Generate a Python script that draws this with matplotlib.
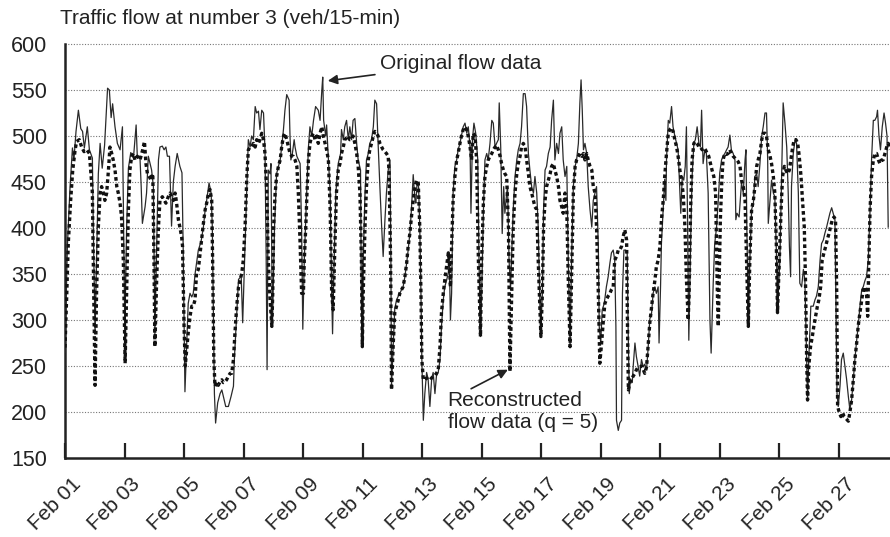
import matplotlib
matplotlib.use("Agg")
import matplotlib.pyplot as plt
import matplotlib.dates as mdates
import matplotlib.transforms as mtransforms
import numpy as np
import pandas as pd

plt.rcParams['font.family'] = ['Liberation Sans', 'DejaVu Sans']

start_date = "2005-02-01"

# Original flow data (time in days from Feb 01 00:00, flow in veh/15-min)
orig_days = [
    0.00, 0.08, 0.17, 0.25, 0.30, 0.37, 0.45, 0.53, 0.59, 0.65, 0.75, 0.82, 0.92, 0.95,
    1.01, 1.06, 1.12, 1.18, 1.25, 1.33, 1.43, 1.49, 1.55, 1.60, 1.68, 1.76, 1.85, 1.93, 1.97,
    2.01, 2.07, 2.13, 2.21, 2.30, 2.39, 2.43, 2.52, 2.56, 2.60, 2.69, 2.74, 2.80, 2.86, 2.91, 2.97,
    3.02, 3.08, 3.14, 3.19, 3.27, 3.33, 3.39, 3.44, 3.51, 3.58, 3.64, 3.70, 3.77, 3.86, 3.93, 3.97,
    4.03, 4.09, 4.14, 4.20, 4.26, 4.31, 4.37, 4.48, 4.57, 4.65, 4.71, 4.76, 4.84, 4.91, 4.95, 4.99,
    5.02, 5.06, 5.13, 5.21, 5.27, 5.32, 5.40, 5.49, 5.58, 5.66, 5.69, 5.77, 5.83, 5.92, 5.97,
    6.02, 6.05, 6.11, 6.16, 6.22, 6.27, 6.33, 6.39, 6.44, 6.50, 6.55, 6.61, 6.67, 6.72, 6.76,
    6.79, 6.83, 6.89, 6.92, 6.97, 7.04, 7.11, 7.17, 7.23, 7.28, 7.34, 7.39, 7.45, 7.53, 7.56,
    7.59, 7.64, 7.70, 7.73, 7.79, 7.90, 7.95, 7.99, 8.04, 8.12, 8.18, 8.23, 8.29, 8.35, 8.42,
    8.51, 8.57, 8.63, 8.66, 8.69, 8.76, 8.79, 8.85, 8.91, 8.96, 8.99, 9.03, 9.10, 9.18, 9.26,
    9.29, 9.35, 9.40, 9.46, 9.52, 9.57, 9.63, 9.68, 9.74, 9.80, 9.85, 9.93, 9.96, 9.99, 10.02,
    10.08, 10.13, 10.19, 10.24, 10.30, 10.36, 10.41, 10.47, 10.52, 10.58, 10.64, 10.69, 10.75,
    10.80, 10.86, 10.92, 10.95, 10.97, 11.03, 11.08, 11.14, 11.20, 11.25, 11.31, 11.36, 11.42,
    11.48, 11.53, 11.59, 11.64, 11.70, 11.76, 11.79, 11.83, 11.88, 11.92, 11.96, 11.99, 12.04,
    12.09, 12.15, 12.20, 12.26, 12.32, 12.37, 12.43, 12.48, 12.54, 12.60, 12.65, 12.71, 12.76,
    12.82, 12.88, 12.91, 12.95, 12.99, 13.04, 13.10, 13.16, 13.21, 13.27, 13.32, 13.38, 13.44,
    13.50, 13.55, 13.61, 13.64, 13.69, 13.74, 13.80, 13.87, 13.91, 13.96, 14.00, 14.06, 14.11,
    14.17, 14.22, 14.28, 14.34, 14.39, 14.45, 14.50, 14.56, 14.59, 14.64, 14.69, 14.74, 14.78,
    14.84, 14.87, 14.92, 14.97, 15.06, 15.12, 15.18, 15.23, 15.29, 15.34, 15.40, 15.46, 15.51,
    15.57, 15.62, 15.68, 15.74, 15.79, 15.85, 15.90, 15.96, 15.99, 16.04, 16.08, 16.13, 16.18,
    16.24, 16.30, 16.35, 16.41, 16.46, 16.52, 16.58, 16.63, 16.69, 16.74, 16.80, 16.86, 16.91,
    16.97, 17.02, 17.08, 17.14, 17.19, 17.25, 17.30, 17.34, 17.38, 17.42, 17.47, 17.53, 17.58,
    17.64, 17.70, 17.75, 17.81, 17.86, 17.92, 17.95, 18.00, 18.05, 18.12, 18.19, 18.25, 18.31,
    18.36, 18.42, 18.47, 18.51, 18.53, 18.59, 18.64, 18.70, 18.73, 18.78, 18.84, 18.89, 18.92,
    18.96, 19.00, 19.06, 19.09, 19.15, 19.20, 19.26, 19.31, 19.37, 19.43, 19.48, 19.54, 19.59,
    19.65, 19.71, 19.76, 19.82, 19.87, 19.93, 19.96, 20.01, 20.04, 20.10, 20.15, 20.19, 20.21,
    20.27, 20.32, 20.38, 20.43, 20.49, 20.55, 20.60, 20.66, 20.69, 20.74, 20.79, 20.84, 20.88,
    20.92, 20.96, 21.02, 21.07, 21.13, 21.18, 21.24, 21.30, 21.35, 21.39, 21.44, 21.50, 21.55,
    21.61, 21.67, 21.71, 21.78, 21.83, 21.89, 21.95, 22.00, 22.06, 22.11, 22.17, 22.23, 22.28,
    22.34, 22.39, 22.45, 22.51, 22.54, 22.58, 22.65, 22.73, 22.79, 22.85, 22.88, 22.91, 22.96,
    23.01, 23.07, 23.13, 23.18, 23.24, 23.29, 23.35, 23.41, 23.46, 23.52, 23.57, 23.61, 23.63,
    23.69, 23.74, 23.80, 23.85, 23.91, 23.94, 24.02, 24.08, 24.13, 24.19, 24.25, 24.30, 24.34,
    24.38, 24.41, 24.47, 24.53, 24.58, 24.64, 24.69, 24.75, 24.81, 24.86, 24.92, 24.95, 24.99,
    25.06, 25.14, 25.20, 25.25, 25.31, 25.37, 25.42, 25.48, 25.53, 25.59, 25.65, 25.70, 25.76,
    25.81, 25.87, 25.90, 25.94, 25.98, 26.04, 26.09, 26.15, 26.21, 26.26, 26.32, 26.37, 26.43,
    26.49, 26.54, 26.60, 26.65, 26.71, 26.77, 26.82, 26.88, 26.93, 26.99, 27.05, 27.10, 27.16,
    27.21, 27.27, 27.30, 27.35, 27.40, 27.46, 27.52, 27.57, 27.62, 27.66,
]
orig_flow = [
    265, 380, 445, 487, 474, 505, 528, 508, 505, 487, 510, 485, 476, 402,
    285, 366, 459, 492, 465, 490, 552, 550, 520, 535, 510, 492, 485, 510, 400,
    290, 400, 465, 482, 476, 512, 477, 476, 445, 405, 423, 438, 478, 470, 463, 445,
    285, 380, 474, 488, 489, 485, 488, 478, 478, 402, 450, 467, 481, 467, 460, 380,
    222, 275, 318, 329, 325, 329, 350, 376, 385, 401, 420, 430, 449, 438, 401, 293,
    220, 188, 210, 220, 224, 217, 206, 206, 217, 228, 257, 308, 344, 348, 297,
    351, 380, 445, 496, 488, 500, 496, 532, 525, 527, 507, 528, 525, 485, 365,
    246, 463, 459, 470, 293, 401, 459, 467, 474, 488, 507, 528, 545, 539, 500,
    474, 481, 496, 488, 478, 470, 401, 290, 365, 438, 488, 510, 500, 517, 532,
    528, 517, 550, 564, 517, 500, 512, 474, 438, 329, 285, 347, 438, 470, 481,
    507, 496, 510, 517, 496, 510, 496, 517, 519, 492, 474, 463, 312, 282, 365,
    438, 474, 481, 492, 496, 510, 539, 535, 492, 445, 401, 369, 409,
    438, 463, 474, 365, 228, 275, 312, 322, 326, 329, 333, 336, 347,
    362, 376, 395, 420, 458, 430, 427, 449, 445, 401, 329, 257, 191,
    220, 243, 236, 206, 236, 243, 220, 239, 243, 257, 293, 322, 336,
    343, 351, 373, 300, 329, 438, 467, 474, 485, 492, 500, 510, 514,
    503, 510, 488, 416, 496, 514, 503, 474, 365, 282, 329, 420, 474,
    481, 474, 492, 517, 514, 488, 492, 496, 536, 488, 394, 445, 416,
    438, 445, 365, 335, 420, 456, 474, 485, 492, 510, 546, 546, 532,
    481, 463, 445, 438, 456, 438, 401, 311, 293, 329, 420, 463, 467,
    481, 488, 517, 539, 474, 492, 481, 503, 510, 474, 456, 467, 365,
    271, 365, 445, 467, 474, 492, 536, 561, 528, 485, 492, 481, 445,
    420, 401, 430, 438, 445, 380, 293, 275, 311, 318, 336, 347, 362,
    373, 376, 365, 293, 191, 180, 188, 191, 329, 376, 376, 372, 293,
    220, 236, 232, 249, 275, 260, 249, 239, 257, 249, 252, 246, 268,
    301, 308, 329, 336, 329, 336, 275, 336, 383, 420, 453, 430, 474,
    517, 514, 532, 510, 500, 492, 485, 438, 416, 456, 452, 467, 510,
    401, 278, 383, 456, 492, 496, 510, 492, 488, 528, 470, 485, 481,
    438, 300, 264, 340, 383, 400, 430, 460, 474, 478, 481, 485, 488,
    501, 485, 481, 474, 409, 416, 412, 449, 438, 474, 485, 401, 296,
    365, 420, 427, 456, 459, 445, 470, 500, 510, 525, 525, 474, 405,
    430, 452, 438, 434, 365, 311, 365, 456, 536, 514, 488, 438, 380,
    347, 445, 481, 496, 492, 438, 340, 336, 355, 343, 257, 213, 257,
    315, 315, 322, 326, 336, 365, 383, 387, 394, 401, 409, 416, 422,
    416, 409, 329, 220, 206, 228, 257, 264, 249, 236, 217, 203, 213,
    236, 257, 278, 293, 315, 333, 336, 343, 347, 365, 420, 474, 517,
    517, 521, 528, 500, 485, 510, 525, 514, 500, 401,
]

# Reconstructed flow data (q = 5)
recon_days = [
    0.00, 0.06, 0.11, 0.19, 0.26, 0.34, 0.39, 0.48, 0.56, 0.64, 0.73, 0.82, 0.87, 0.92, 0.95,
    1.01, 1.06, 1.12, 1.18, 1.23, 1.29, 1.34, 1.40, 1.46, 1.51, 1.57, 1.62, 1.68, 1.74, 1.79,
    1.85, 1.90, 1.96, 2.02, 2.07, 2.13, 2.18, 2.24, 2.30, 2.35, 2.43, 2.52, 2.61, 2.67, 2.72,
    2.77, 2.83, 2.89, 2.95, 2.99, 3.02, 3.08, 3.14, 3.19, 3.27, 3.34, 3.39, 3.47, 3.53, 3.58,
    3.64, 3.70, 3.75, 3.81, 3.86, 3.92, 3.95, 4.00, 4.04, 4.09, 4.14, 4.20, 4.26, 4.31, 4.37,
    4.42, 4.48, 4.54, 4.59, 4.65, 4.71, 4.76, 4.82, 4.87, 4.93, 4.96, 5.00, 5.04, 5.10, 5.15,
    5.21, 5.27, 5.32, 5.38, 5.43, 5.49, 5.55, 5.60, 5.66, 5.71, 5.77, 5.83, 5.88, 5.94, 5.99,
    6.05, 6.11, 6.16, 6.22, 6.27, 6.33, 6.39, 6.44, 6.50, 6.55, 6.61, 6.67, 6.72, 6.78, 6.83,
    6.89, 6.95, 6.98, 7.01, 7.06, 7.11, 7.17, 7.23, 7.28, 7.34, 7.39, 7.45, 7.51, 7.56, 7.62,
    7.67, 7.73, 7.79, 7.84, 7.90, 7.95, 8.01, 8.04, 8.09, 8.13, 8.18, 8.23, 8.29, 8.35, 8.40,
    8.46, 8.51, 8.57, 8.63, 8.68, 8.74, 8.79, 8.85, 8.91, 8.96, 9.01, 9.07, 9.12, 9.18, 9.24,
    9.29, 9.35, 9.40, 9.46, 9.52, 9.57, 9.63, 9.68, 9.74, 9.80, 9.85, 9.91, 9.96, 9.99, 10.02,
    10.08, 10.13, 10.19, 10.24, 10.30, 10.36, 10.41, 10.47, 10.52, 10.58, 10.64, 10.69, 10.75,
    10.80, 10.86, 10.89, 10.94, 10.97, 11.03, 11.08, 11.14, 11.20, 11.25, 11.31, 11.36, 11.42,
    11.48, 11.53, 11.59, 11.64, 11.70, 11.76, 11.81, 11.87, 11.92, 11.96, 11.99, 12.04, 12.09,
    12.15, 12.20, 12.26, 12.32, 12.37, 12.43, 12.48, 12.54, 12.60, 12.65, 12.71, 12.76, 12.82,
    12.88, 12.91, 12.95, 12.99, 13.04, 13.10, 13.16, 13.21, 13.27, 13.32, 13.38, 13.44, 13.49,
    13.55, 13.61, 13.66, 13.72, 13.78, 13.83, 13.89, 13.96, 14.00, 14.06, 14.11, 14.17, 14.22,
    14.28, 14.34, 14.39, 14.45, 14.50, 14.56, 14.62, 14.67, 14.73, 14.78, 14.84, 14.90, 14.95,
    15.01, 15.06, 15.12, 15.18, 15.23, 15.29, 15.34, 15.40, 15.46, 15.51, 15.57, 15.62, 15.68,
    15.74, 15.79, 15.85, 15.90, 15.96, 15.99, 16.04, 16.08, 16.13, 16.18, 16.24, 16.30, 16.35,
    16.41, 16.46, 16.52, 16.58, 16.63, 16.69, 16.74, 16.80, 16.86, 16.91, 16.97, 17.02, 17.08,
    17.14, 17.19, 17.25, 17.30, 17.36, 17.42, 17.47, 17.53, 17.58, 17.64, 17.70, 17.75, 17.81,
    17.86, 17.92, 17.97, 18.03, 18.09, 18.14, 18.19, 18.25, 18.31, 18.36, 18.42, 18.47, 18.53,
    18.59, 18.64, 18.70, 18.75, 18.81, 18.87, 18.90, 18.93, 18.98, 19.03, 19.09, 19.15, 19.20,
    19.26, 19.31, 19.37, 19.43, 19.48, 19.54, 19.59, 19.65, 19.71, 19.76, 19.82, 19.87, 19.93,
    19.99, 20.04, 20.10, 20.15, 20.21, 20.27, 20.32, 20.38, 20.43, 20.49, 20.55, 20.60, 20.66,
    20.71, 20.77, 20.83, 20.88, 20.94, 20.97, 21.02, 21.07, 21.13, 21.18, 21.24, 21.30, 21.35,
    21.41, 21.46, 21.52, 21.58, 21.63, 21.69, 21.74, 21.80, 21.86, 21.89, 21.92, 21.95, 21.98,
    22.02, 22.07, 22.11, 22.17, 22.23, 22.28, 22.34, 22.39, 22.45, 22.51, 22.57, 22.62, 22.68,
    22.73, 22.79, 22.85, 22.90, 22.96, 23.01, 23.07, 23.13, 23.18, 23.24, 23.29, 23.35, 23.41,
    23.46, 23.52, 23.57, 23.63, 23.69, 23.74, 23.80, 23.85, 23.90, 23.94, 24.00, 24.06, 24.11,
    24.17, 24.22, 24.28, 24.34, 24.39, 24.45, 24.50, 24.56, 24.62, 24.67, 24.73, 24.78, 24.84,
    24.88, 24.92, 24.95, 24.99, 25.05, 25.11, 25.16, 25.22, 25.28, 25.33, 25.39, 25.44, 25.50,
    25.56, 25.61, 25.67, 25.72, 25.78, 25.84, 25.89, 25.93, 25.96, 26.02, 26.07, 26.13, 26.18,
    26.24, 26.32, 26.37, 26.43, 26.49, 26.54, 26.60, 26.65, 26.71, 26.77, 26.82, 26.88, 26.93,
    26.97, 27.01, 27.05, 27.10, 27.16, 27.21, 27.27, 27.33, 27.38, 27.44, 27.49, 27.55, 27.61,
    27.66, 27.72,
]
recon_flow = [
    270, 329, 383, 430, 463, 485, 494, 496, 488, 483, 485, 481, 459, 438, 365,
    229, 329, 401, 438, 445, 438, 430, 438, 463, 488, 481, 474, 463, 445, 438,
    427, 412, 365, 253, 329, 420, 463, 478, 481, 474, 478, 474, 485, 494, 470,
    459, 456, 452, 459, 365, 271, 344, 401, 430, 434, 430, 427, 434, 438, 434,
    430, 438, 427, 409, 401, 390, 380, 293, 250, 268, 286, 304, 315, 315, 322,
    351, 355, 373, 387, 405, 420, 427, 438, 442, 430, 365, 257, 228, 232, 229,
    233, 235, 232, 233, 235, 239, 242, 242, 257, 286, 315, 336, 343, 351, 365,
    401, 456, 485, 488, 488, 492, 488, 496, 492, 496, 503, 496, 481, 438, 365,
    322, 293, 329, 401, 438, 456, 467, 474, 488, 500, 503, 496, 488, 481, 478,
    478, 474, 467, 438, 383, 329, 329, 365, 401, 438, 474, 492, 500, 503, 496,
    500, 492, 503, 510, 500, 492, 485, 474, 420, 329, 311, 383, 438, 463, 470,
    481, 488, 496, 498, 500, 496, 496, 500, 492, 481, 467, 438, 365, 271, 329,
    401, 445, 474, 485, 492, 500, 505, 503, 500, 492, 488, 485, 483,
    481, 478, 459, 365, 224, 275, 308, 315, 322, 329, 333, 336, 347,
    362, 380, 395, 412, 430, 445, 452, 449, 401, 329, 257, 235, 235,
    237, 235, 235, 237, 239, 240, 242, 246, 271, 308, 329, 343, 358,
    373, 365, 336, 380, 430, 456, 474, 481, 492, 500, 507, 510, 507,
    500, 488, 474, 503, 500, 474, 365, 282, 365, 430, 456, 467, 474,
    478, 481, 485, 488, 490, 485, 478, 470, 463, 459, 456, 401, 244,
    329, 401, 438, 459, 470, 478, 488, 492, 488, 474, 459, 445, 438,
    430, 423, 420, 365, 311, 282, 329, 401, 430, 445, 452, 459, 467,
    470, 463, 456, 445, 430, 423, 416, 438, 420, 344, 271, 344, 438,
    467, 474, 478, 481, 478, 481, 474, 481, 474, 467, 463, 445, 438,
    401, 329, 253, 275, 300, 318, 322, 326, 329, 333, 336, 365, 369,
    376, 376, 380, 390, 398, 387, 293, 224, 232, 235, 239, 242, 246,
    249, 249, 250, 246, 242, 249, 271, 297, 315, 329, 343, 358, 365,
    380, 409, 430, 456, 481, 503, 507, 509, 505, 496, 488, 478, 463,
    452, 438, 401, 344, 300, 329, 420, 474, 492, 494, 492, 488, 488,
    485, 487, 485, 481, 478, 470, 463, 456, 438, 383, 329, 293, 344,
    409, 452, 474, 481, 480, 481, 485, 481, 478, 476, 474, 472, 467,
    452, 445, 430, 365, 293, 365, 420, 430, 445, 467, 474, 481, 496,
    503, 503, 500, 485, 478, 470, 456, 438, 383, 308, 365, 420, 456,
    467, 463, 459, 463, 474, 488, 496, 496, 492, 478, 456, 430, 401,
    344, 257, 213, 249, 271, 282, 293, 304, 315, 322, 336, 365, 373,
    380, 387, 394, 401, 409, 412, 409, 329, 206, 199, 195, 199, 195,
    193, 190, 199, 213, 236, 257, 275, 293, 308, 322, 333, 336, 329,
    304, 365, 420, 456, 474, 481, 481, 474, 470, 474, 474, 481, 488,
    492, 485,
]

y_ticks = [150, 200, 250, 300, 350, 400, 450, 500, 550, 600]
title_text = "Traffic flow at number 3 (veh/15-min)"

t0 = pd.Timestamp(start_date)
orig_t = t0 + pd.to_timedelta(np.array(orig_days), unit="D")
recon_t = t0 + pd.to_timedelta(np.array(recon_days), unit="D")

fig = plt.figure(figsize=(8.9, 5.37), dpi=100)
ax = fig.add_axes([65 / 890, 1 - 458 / 537, 1 - 65 / 890, (458 - 44) / 537])

ax.plot(orig_t, orig_flow, color="#2a2a2a", lw=0.9, zorder=3)
ax.plot(recon_t, recon_flow, color="#111111", lw=2.4,
        linestyle=(0, (1.1, 0.9)), zorder=4)

ax.set_ylim(150, 600)
ax.set_xlim(t0, t0 + pd.Timedelta(days=27.72))
ax.set_yticks(y_ticks)
for v in y_ticks[1:]:
    ax.axhline(v, color="#777777", lw=0.8, linestyle=(0, (1, 1.5)), zorder=1,
               clip_on=False)

ax.xaxis.set_major_locator(mdates.DayLocator(bymonthday=list(range(1, 29, 2))))
ax.xaxis.set_major_formatter(mdates.DateFormatter("%b %d"))

for s in ["top", "right"]:
    ax.spines[s].set_visible(False)
for s in ["left", "bottom"]:
    ax.spines[s].set_linewidth(1.8)
    ax.spines[s].set_color("#222222")

ax.tick_params(axis="x", direction="in", length=11, width=1.6, color="#222222",
               labelsize=15, pad=12, labelcolor="#222222")
ax.tick_params(axis="y", length=0, labelsize=15.5, pad=13, labelcolor="#222222")
offset = mtransforms.ScaledTranslation(6 / 100, 0, fig.dpi_scale_trans)
for lab in ax.get_xticklabels():
    lab.set_rotation(45)
    lab.set_ha("right")
    lab.set_va("top")
    lab.set_rotation_mode("anchor")
    lab.set_transform(lab.get_transform() + offset)

fig.text(60 / 890, 1 - 18 / 537, title_text, fontsize=15, color="#222222",
         va="center", ha="left")

ax.annotate("Original flow data",
            xy=(t0 + pd.Timedelta(days=8.83), 560),
            xytext=(t0 + pd.Timedelta(days=10.6), 579),
            fontsize=15, color="#222222", va="center", ha="left",
            arrowprops=dict(arrowstyle="-|>", color="#222222", lw=1.2,
                            mutation_scale=14, shrinkA=2, shrinkB=0))
ax.annotate("Reconstructed\nflow data (q = 5)",
            xy=(t0 + pd.Timedelta(days=14.88), 246),
            xytext=(t0 + pd.Timedelta(days=12.86), 200),
            fontsize=15, color="#222222", va="center", ha="left",
            linespacing=1.2,
            arrowprops=dict(arrowstyle="-|>", color="#222222", lw=1.2,
                            mutation_scale=14, shrinkA=0, shrinkB=0,
                            relpos=(0.12, 1.0)))

fig.savefig("out.png", dpi=100)
